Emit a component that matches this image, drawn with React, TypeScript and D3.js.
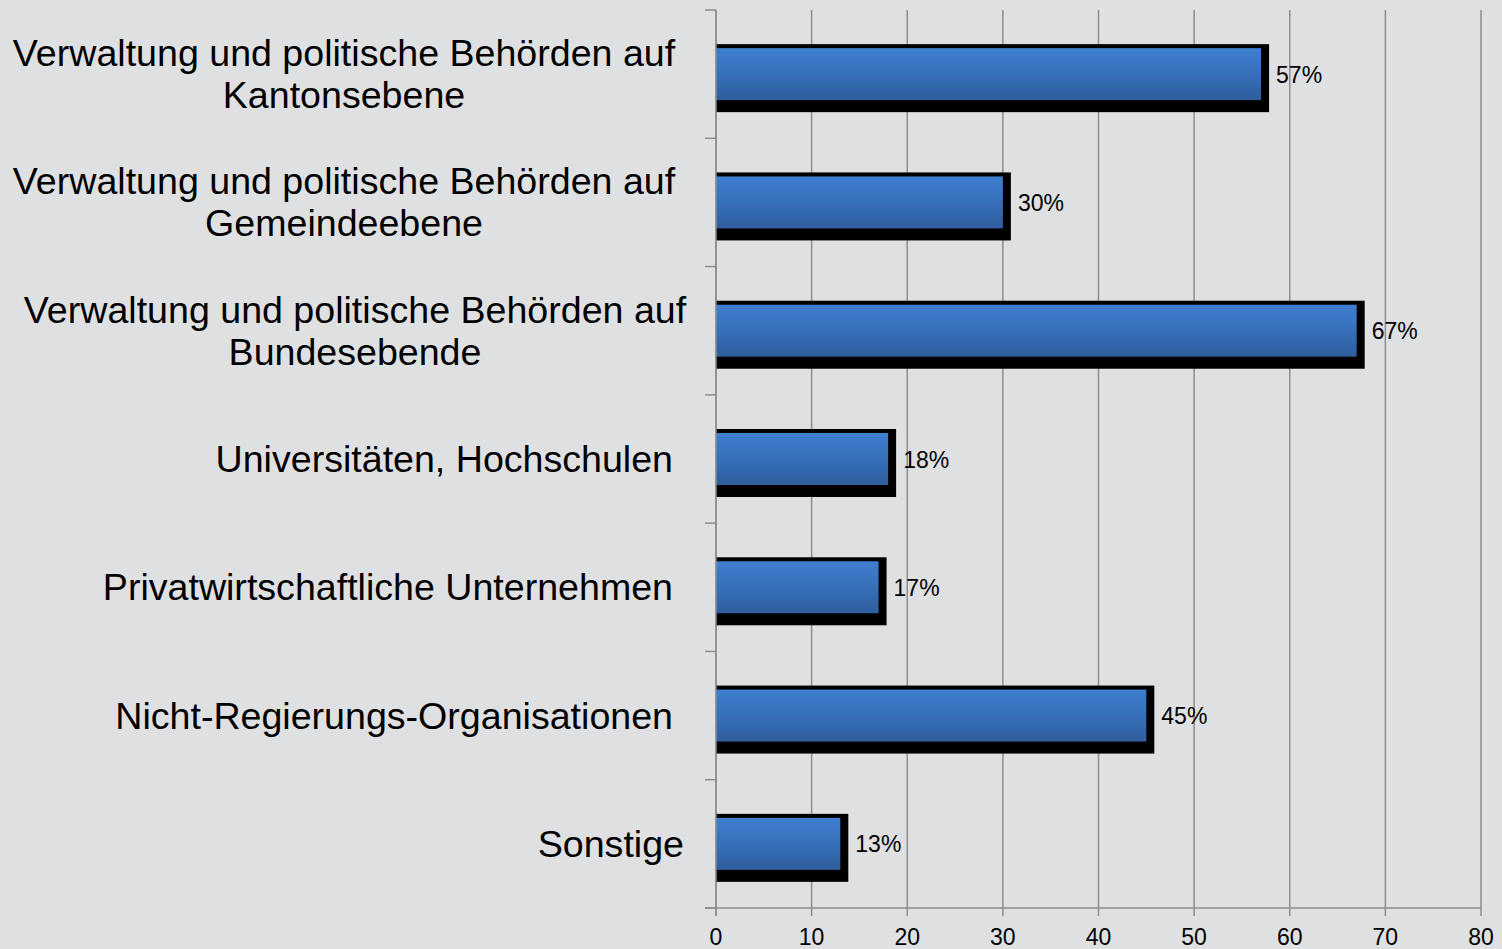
import React from "react";
import * as d3 from "d3";

const categories: string[][] = [
  ["Verwaltung und politische Behörden auf", "Kantonsebene"],
  ["Verwaltung und politische Behörden auf", "Gemeindeebene"],
  ["Verwaltung und politische Behörden auf", "Bundesebende"],
  ["Universitäten, Hochschulen"],
  ["Privatwirtschaftliche Unternehmen"],
  ["Nicht-Regierungs-Organisationen"],
  ["Sonstige"],
];
const values: number[] = [57, 30, 67, 18, 17, 45, 13];
const valueLabels: string[] = ["57%", "30%", "67%", "18%", "17%", "45%", "13%"];
const xTicks: number[] = [0, 10, 20, 30, 40, 50, 60, 70, 80];

const W = 1502;
const H = 949;
const FONT = "'Liberation Sans', Arial, sans-serif";

export default function App() {
  const x = d3.scaleLinear().domain([0, 80]).range([716, 1481]);
  const y = d3
    .scaleBand<number>()
    .domain(categories.map((_, i) => i))
    .range([10, 908])
    .padding(0);
  const step = y.step();
  const barH = 52;
  const gridColor = "#8e8e8e";
  const labelDx: Record<number, number> = { 2: 11, 6: 11 };

  return (
    <svg
      width={W}
      height={H}
      style={{ position: "absolute", left: 0, top: 0, display: "block" }}
      fontFamily={FONT}
    >
      <defs>
        <linearGradient id="barGrad" x1="0" y1="0" x2="0" y2="1">
          <stop offset="0%" stopColor="#3e7fd0" />
          <stop offset="50%" stopColor="#3770b9" />
          <stop offset="100%" stopColor="#2e5d9b" />
        </linearGradient>
      </defs>
      <rect x={0} y={0} width={W} height={H} fill="#dfe0e2" />

      {/* vertical gridlines */}
      {xTicks.map((t) => (
        <line
          key={"g" + t}
          x1={x(t)}
          x2={x(t)}
          y1={10}
          y2={916}
          stroke={gridColor}
          strokeWidth={1.5}
        />
      ))}

      {/* y axis ticks */}
      {d3.range(categories.length + 1).map((i) => (
        <line
          key={"yt" + i}
          x1={705}
          x2={716}
          y1={10 + i * step}
          y2={10 + i * step}
          stroke={gridColor}
          strokeWidth={1.5}
        />
      ))}

      {/* x axis line */}
      <line x1={705} x2={x(80)} y1={908} y2={908} stroke={gridColor} strokeWidth={1.5} />

      {/* bars */}
      {values.map((v, i) => {
        const c = (y(i) as number) + step / 2;
        const top = c - barH / 2;
        return (
          <g key={"b" + i}>
            <rect
              x={x(0)}
              y={top - 4}
              width={x(v) - x(0) + 8}
              height={barH + 16}
              fill="#000"
            />
            <rect x={x(0)} y={top} width={x(v) - x(0)} height={barH} fill="url(#barGrad)" />
            <text
              x={x(v) + 15}
              y={c + 8.5}
              fontSize={23}
              fill="#000"
              textAnchor="start"
            >
              {valueLabels[i]}
            </text>
          </g>
        );
      })}
      <line x1={716} x2={716} y1={10} y2={916} stroke={gridColor} strokeWidth={1.5} />

      {/* category labels */}
      {categories.map((lines, i) => {
        const c = (y(i) as number) + step / 2;
        const dx = labelDx[i] || 0;
        const n = lines.length;
        return (
          <text
            key={"c" + i}
            fontSize={37.6}
            fill="#000"
            textAnchor={n > 1 ? "middle" : "end"}
          >
            {lines.map((ln, j) => (
              <tspan
                key={j}
                x={(n > 1 ? 344 : 673) + dx}
                y={c + 13 + (j - (n - 1) / 2) * 42}
              >
                {ln}
              </tspan>
            ))}
          </text>
        );
      })}

      {/* x tick labels */}
      {xTicks.map((t) => (
        <text
          key={"xl" + t}
          x={x(t)}
          y={945}
          fontSize={23}
          textAnchor="middle"
          fill="#000"
        >
          {t}
        </text>
      ))}
    </svg>
  );
}
